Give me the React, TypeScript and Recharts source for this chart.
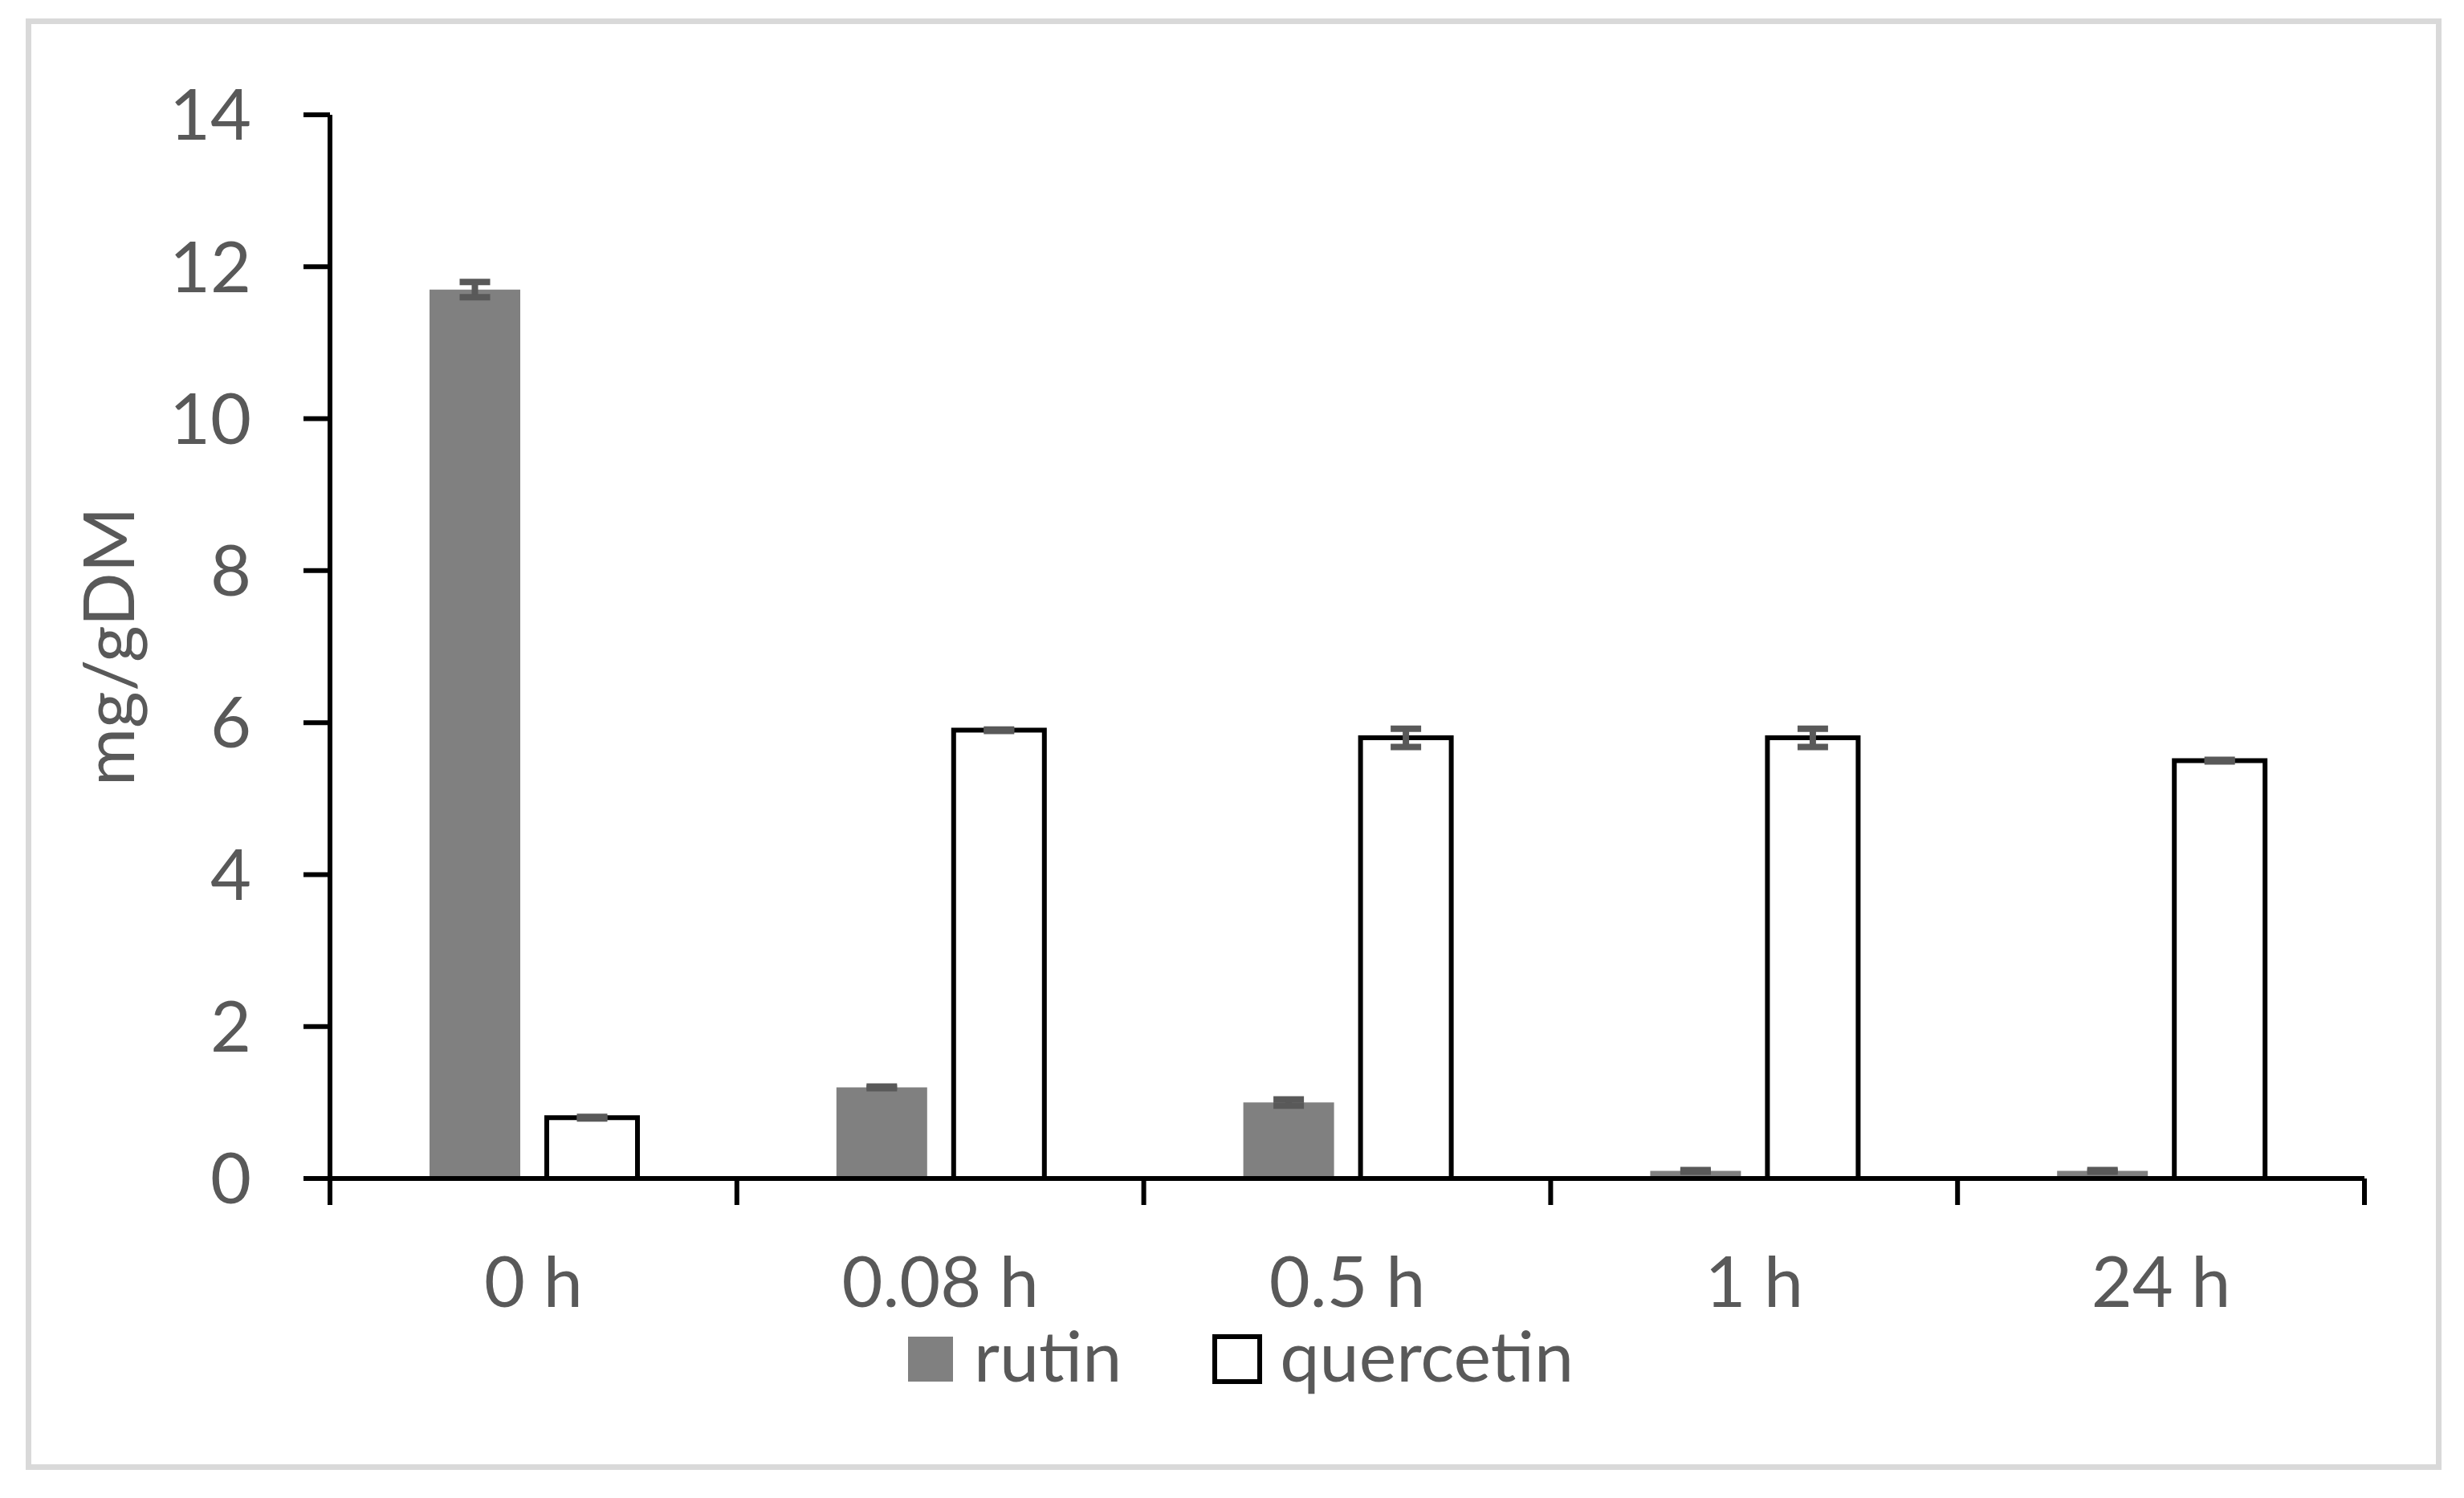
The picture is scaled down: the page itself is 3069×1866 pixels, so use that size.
import { BarChart, Bar, XAxis, YAxis, ErrorBar, Legend } from 'recharts'

// ── Data ────────────────────────────────────────────────────────
const timeLabels = ['0 h', '0.08 h', '0.5 h', '1 h', '24 h']
const rutinValues = [11.7, 1.2, 1.0, 0.1, 0.1]
const rutinErrors = [0.1, 0.01, 0.04, 0.01, 0.01]
const quercetinValues = [0.8, 5.9, 5.8, 5.8, 5.5]
const quercetinErrors = [0.01, 0.01, 0.12, 0.12, 0.01]
const yTicks = [0, 2, 4, 6, 8, 10, 12, 14]
const edgeTicks = [0, 1, 2, 3, 4, 5]

const data = timeLabels.map((t, i) => ({
  time: t,
  slot: i + 0.5, // centre of the category on the edge (numeric) axis
  rutin: rutinValues[i],
  rutinErr: rutinErrors[i],
  quercetin: quercetinValues[i],
  quercetinErr: quercetinErrors[i],
}))

const FONT = 'Lato, "Open Sans", sans-serif'
const TEXT = '#595959'
const FS = 88

const YLabel = ({ viewBox }: { viewBox?: { x: number; y: number; width: number; height: number } }) => {
  if (!viewBox) return null
  const x = viewBox.x + 137
  const y = viewBox.y + viewBox.height / 2
  return (
    <text x={x} y={y} transform={`rotate(-90, ${x}, ${y})`} textAnchor="middle"
      fill={TEXT} fontSize={FS} fontFamily={FONT}>
      mg/gDM
    </text>
  )
}

const LegendBox = () => (
  <div style={{ display: 'flex', justifyContent: 'center', paddingLeft: 22, fontFamily: FONT, fontSize: FS, lineHeight: '70px', color: TEXT, height: 70 }}>
    <div style={{ display: 'flex', alignItems: 'flex-start' }}>
      <div style={{ width: 56, height: 56, background: '#808080', marginTop: 13 }} />
      <span style={{ marginLeft: 26 }}>rutin</span>
    </div>
    <div style={{ display: 'flex', alignItems: 'flex-start', marginLeft: 113 }}>
      <div style={{ width: 62, height: 62, boxSizing: 'border-box', border: '6px solid #000', background: '#fff', marginTop: 10 }} />
      <span style={{ marginLeft: 22 }}>quercetin</span>
    </div>
  </div>
)

// empty tick: keep the tick lines at category edges, no labels
const NoLabel = () => <g />

export default function App() {
  return (
    <div style={{ position: 'absolute', left: 0, top: 0, width: 3069, height: 1866, background: '#fff' }}>
      <div style={{ position: 'absolute', left: 32, top: 23, width: 3009, height: 1808, boxSizing: 'border-box', border: '7px solid #d9d9d9' }} />
      <div style={{ position: 'absolute', left: 0, top: 0 }}>
        <BarChart width={3069} height={1866} data={data}
          margin={{ top: 143, right: 124, bottom: 144, left: 30 }}
          barSize={113} barGap={33}>
          <XAxis xAxisId="b" dataKey="time" height={151} axisLine={false} tickLine={false}
            tickSize={0} tickMargin={65} interval={0}
            tick={{ fill: TEXT, fontSize: FS, fontFamily: FONT }} />
          <XAxis xAxisId="a" dataKey="slot" type="number" domain={[0, 5]} ticks={edgeTicks} allowDataOverflow
            height={33} tickSize={33} tick={<NoLabel />} interval={0}
            axisLine={{ stroke: '#000', strokeWidth: 6 }} tickLine={{ stroke: '#000', strokeWidth: 6 }} />
          <YAxis domain={[0, 14]} ticks={yTicks} width={381} tickSize={33} tickMargin={65}
            axisLine={{ stroke: '#000', strokeWidth: 6 }} tickLine={{ stroke: '#000', strokeWidth: 6 }}
            tick={{ fill: TEXT, fontSize: FS, fontFamily: FONT }}
            label={<YLabel />} />
          <Legend verticalAlign="bottom" align="center" width={3069} wrapperStyle={{ left: 0 }} content={<LegendBox />} />
          <Bar xAxisId="b" dataKey="rutin" name="rutin" fill="#808080" isAnimationActive={false}>
            <ErrorBar dataKey="rutinErr" width={19} stroke="#595959" strokeWidth={8} isAnimationActive={false} />
          </Bar>
          <Bar xAxisId="b" dataKey="quercetin" name="quercetin" fill="#ffffff" stroke="#000" strokeWidth={6} isAnimationActive={false}>
            <ErrorBar dataKey="quercetinErr" width={19} stroke="#595959" strokeWidth={8} isAnimationActive={false} />
          </Bar>
        </BarChart>
      </div>
    </div>
  )
}
